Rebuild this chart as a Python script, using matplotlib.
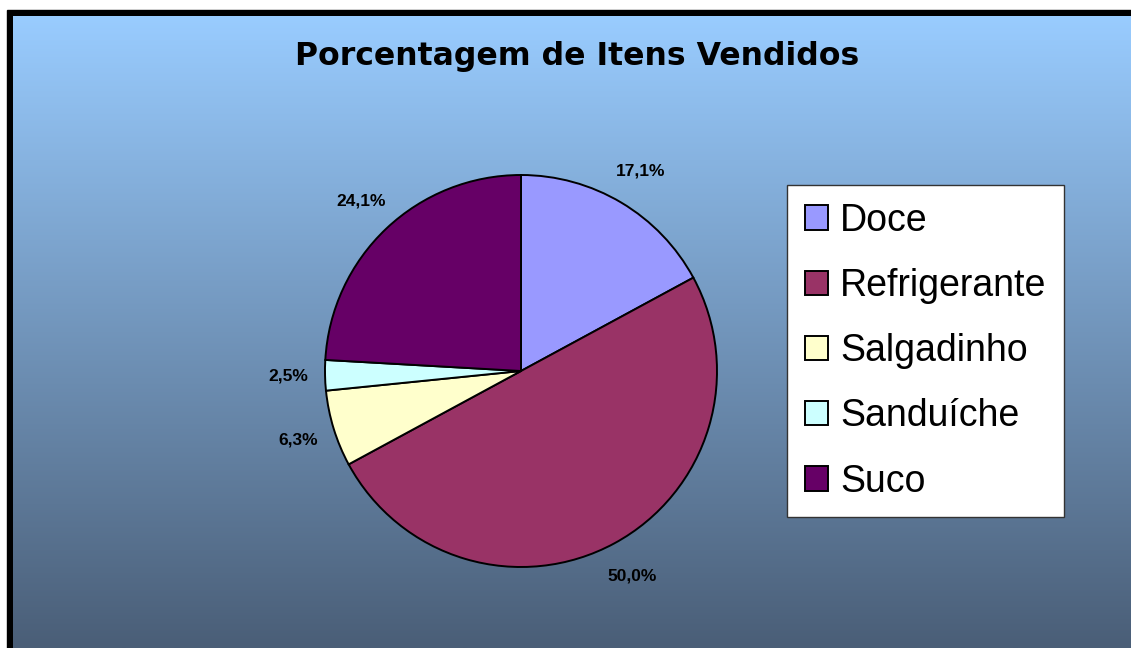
import numpy as np
import matplotlib
matplotlib.use("Agg")
import matplotlib.pyplot as plt
from matplotlib.patches import Rectangle

# data
categories = ["Doce", "Refrigerante", "Salgadinho", "Sanduíche", "Suco"]
percentages = [17.1, 50.0, 6.3, 2.5, 24.1]
slice_colors = ["#9999FF", "#993366", "#FFFFCC", "#CCFFFF", "#660066"]
title = "Porcentagem de Itens Vendidos"

W, H = 1131, 648


def fmt_pct(p):
    return f"{p:.1f}%".replace(".", ",")


fig = plt.figure(figsize=(W / 100, H / 100), dpi=100)

# background: white margin, black frame, blue gradient
bg = fig.add_axes([0, 0, 1, 1])
bg.set_xlim(0, W)
bg.set_ylim(H, 0)
bg.axis("off")
bg.add_patch(Rectangle((0, 0), W, H, color="white", zorder=0))
bg.add_patch(Rectangle((7, 10), W, H, color="black", zorder=1))
top = np.array([0x99, 0xCC, 0xFF]) / 255
bottom = np.array([0x4A, 0x5E, 0x77]) / 255
t = np.linspace(0, 1, 400)[:, None]
grad = (top * (1 - t) + bottom * t)[:, None, :]
bg.imshow(grad, extent=[12.5, W, H, 16.5], aspect="auto", zorder=2,
          interpolation="bilinear")
bg.set_xlim(0, W)
bg.set_ylim(H, 0)

bg.text(577, 56, title, ha="center", va="center", fontsize=22.7,
        fontweight="bold", family="DejaVu Sans", zorder=3)

# pie
cx, cy, r = 521, 371, 196
ax = fig.add_axes([(cx - r) / W, 1 - (cy + r) / H, 2 * r / W, 2 * r / H])
wedges, _, autotexts = ax.pie(
    percentages, colors=slice_colors, startangle=90, counterclock=False,
    autopct=fmt_pct, pctdistance=1.19,
    wedgeprops=dict(edgecolor="black", linewidth=1.4),
    textprops=dict(fontsize=12.5, fontweight="bold",
                   family="Liberation Sans"),
)
ax.set_xlim(-1, 1)
ax.set_ylim(-1, 1)
ax.set_aspect("equal")

leg = fig.legend(
    wedges, categories, loc="upper left",
    bbox_to_anchor=(787 / W, 1 - 185 / H), bbox_transform=fig.transFigure,
    borderaxespad=0, fancybox=False, framealpha=1, edgecolor="#333333",
    prop=dict(family="Liberation Sans", size=27),
    handlelength=0.62, handleheight=0.62, handletextpad=0.32,
    labelspacing=0.78, borderpad=0.47,
)
leg.get_frame().set_linewidth(1.0)

fig.savefig("out.png", dpi=100)
